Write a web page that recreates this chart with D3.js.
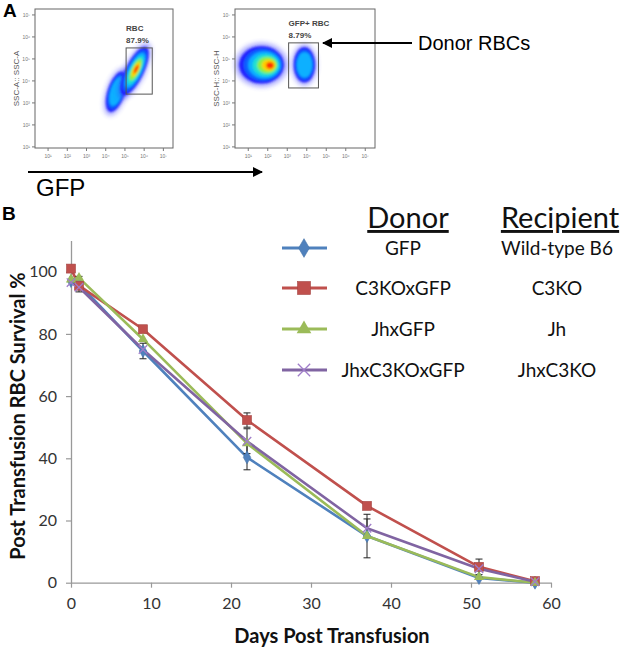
<!DOCTYPE html>
<html>
<head>
<meta charset="utf-8">
<script src="https://cdn.jsdelivr.net/npm/d3@7"></script>
<style>
  body { margin: 0; background: #fff; }
  svg { display: block; }
</style>
</head>
<body>
<svg id="fig" width="637" height="656"></svg>
<script>
// ---- data: panel B (survival curves) ----
var days = [0, 1, 9, 22, 37, 51, 58];
var donors = ["GFP", "C3KOxGFP", "JhxGFP", "JhxC3KOxGFP"];
var recipients = ["Wild-type B6", "C3KO", "Jh", "JhxC3KO"];
var gfpSurvival    = [97, 96, 74.5, 40.3, 15, 1.5, 0];
var c3koSurvival   = [101, 95.5, 81.5, 52.3, 24.7, 5.1, 0.5];
var jhSurvival     = [97.5, 98, 78.3, 44.8, 15, 1.8, 0];
var jhc3koSurvival = [96.5, 95, 75, 45.5, 17.5, 4.5, 0.3];
var gfpErr    = [0, 2.5, 2.5, 4, 0, 0, 0];
var c3koErr   = [0, 0, 0, 2.3, 0, 2.5, 0];
var jhErr     = [0, 0, 0, 0, 7, 0, 0];
var jhc3koErr = [0, 0, 0, 4, 3, 0, 0];
var yTicks = [0, 20, 40, 60, 80, 100];
var xTicks = [0, 10, 20, 30, 40, 50, 60];

// ---- data: panel A (flow plots, log10 units) ----
var flowDecades = [1, 2, 3, 4, 5, 6, 7];
var flow1Clusters = [
  {cx: 4.55, cy: 3.5, px: 4.65, py: 3.6, major: 0.95, minor: 0.45, angle: -72, depth: 3},
  {cx: 5.5, cy: 4.45, px: 5.6, py: 4.55, major: 1.2, minor: 0.47, angle: -64, depth: 7}
];
var flow2Clusters = [
  {cx: 1.68, cy: 4.73, px: 2.2, py: 4.7, major: 1.15, minor: 0.85, angle: 0, depth: 7},
  {cx: 3.88, cy: 4.73, px: 3.9, py: 4.73, major: 0.55, minor: 0.8, angle: 0, depth: 3}
];
var flow1Gate = {x0: 5.06, x1: 6.42, y0: 3.4, y1: 5.5, name: "RBC", pct: "87.9%"};
var flow2Gate = {x0: 3.07, x1: 4.6, y0: 3.68, y1: 5.73, name: "GFP+ RBC", pct: "8.79%"};

var colors = ["#4F81BD", "#C0504D", "#9BBB59", "#8064A2"];
var jet = ["#2020ff", "#1060ff", "#10b0ff", "#20e0d0", "#90f040", "#ffd000", "#ff3000"];

var svg = d3.select("#fig");
var defs = svg.append("defs");
defs.append("filter").attr("id", "soft")
  .attr("x", "-30%").attr("y", "-30%").attr("width", "160%").attr("height", "160%")
  .append("feGaussianBlur").attr("stdDeviation", 1.3);
defs.append("filter").attr("id", "halo")
  .attr("x", "-40%").attr("y", "-40%").attr("width", "180%").attr("height", "180%")
  .append("feGaussianBlur").attr("stdDeviation", 2.5);

// ================= Panel A =================
svg.append("text").attr("x", 3).attr("y", 17)
  .style("font", "bold 19px 'Liberation Sans', Arial, sans-serif").text("A");

function drawFlow(box, yLabel, clusters, gate) {
  var x = d3.scaleLinear().domain([0.32, 7.5]).range([box.x0, box.x1]);
  var y = d3.scaleLinear().domain([0.95, 7.27]).range([box.y1, box.y0]);
  var g = svg.append("g");
  var sx = (box.x1 - box.x0) / (7.5 - 0.32);
  var sy = (box.y1 - box.y0) / (7.27 - 0.95);

  clusters.forEach(function(c) {
    var radii = function(s) {
      return c.angle === 0 ? [c.major * sx * s, c.minor * sy * s] : [c.major * sy * s, c.minor * sx * s];
    };
    // faint scatter halo
    var h = radii(1.18);
    g.append("ellipse")
      .attr("transform", "translate(" + x(c.cx) + "," + y(c.cy) + ") rotate(" + c.angle + ")")
      .attr("rx", h[0]).attr("ry", h[1])
      .attr("fill", "#3a3aff").attr("opacity", 0.45).attr("filter", "url(#halo)");

    var layer = g.append("g").attr("filter", "url(#soft)");
    for (var i = 0; i < c.depth; i++) {
      var s = 1 - i / 7.2;
      var cx = c.cx + (c.px - c.cx) * (1 - s);
      var cy = c.cy + (c.py - c.cy) * (1 - s);
      var r = radii(s);
      layer.append("ellipse")
        .attr("transform", "translate(" + x(cx) + "," + y(cy) + ") rotate(" + c.angle + ")")
        .attr("rx", r[0]).attr("ry", r[1])
        .attr("fill", jet[i]);
    }
  });

  g.append("rect")
    .attr("x", box.x0).attr("y", box.y0)
    .attr("width", box.x1 - box.x0).attr("height", box.y1 - box.y0)
    .attr("fill", "none").attr("stroke", "#666").attr("stroke-width", 1);

  // gate
  g.append("rect")
    .attr("x", x(gate.x0)).attr("y", y(gate.y1))
    .attr("width", x(gate.x1) - x(gate.x0)).attr("height", y(gate.y0) - y(gate.y1))
    .attr("fill", "none").attr("stroke", "#555").attr("stroke-width", 1);
  g.append("text").attr("x", x(gate.x0)).attr("y", y(gate.y1) - 17)
    .style("font", "bold 8px 'Liberation Sans', Arial, sans-serif").attr("fill", "#444")
    .text(gate.name);
  g.append("text").attr("x", x(gate.x0)).attr("y", y(gate.y1) - 5)
    .style("font", "bold 8px 'Liberation Sans', Arial, sans-serif").attr("fill", "#444")
    .text(gate.pct);

  var sup = ["\u00b9", "\u00b2", "\u00b3", "\u2074", "\u2075", "\u2076", "\u2077"];
  flowDecades.forEach(function(d, i) {
    g.append("line").attr("x1", box.x0 - 3).attr("x2", box.x0)
      .attr("y1", y(d)).attr("y2", y(d)).attr("stroke", "#777");
    g.append("text").attr("x", box.x0 - 5).attr("y", y(d) + 2)
      .attr("text-anchor", "end").attr("fill", "#777")
      .style("font", "5px 'Liberation Sans', Arial, sans-serif").text("10" + sup[i]);
    g.append("line").attr("y1", box.y1).attr("y2", box.y1 + 3)
      .attr("x1", x(d)).attr("x2", x(d)).attr("stroke", "#777");
    g.append("text").attr("x", x(d)).attr("y", box.y1 + 10)
      .attr("text-anchor", "middle").attr("fill", "#777")
      .style("font", "5px 'Liberation Sans', Arial, sans-serif").text("10" + sup[i]);
  });

  g.append("text")
    .attr("transform", "translate(" + (box.x0 - 16) + "," + ((box.y0 + box.y1) / 2) + ") rotate(-90)")
    .attr("text-anchor", "middle").attr("fill", "#555")
    .style("font", "8px 'Liberation Sans', Arial, sans-serif").text(yLabel);
}

drawFlow({x0: 35, x1: 173, y0: 9, y1: 148}, "SSC-A:: SSC-A", flow1Clusters, flow1Gate);
drawFlow({x0: 235, x1: 375, y0: 9, y1: 148}, "SSC-H:: SSC-H", flow2Clusters, flow2Gate);

defs.append("marker").attr("id", "arrow")
  .attr("viewBox", "0 0 10 10").attr("refX", 9).attr("refY", 5)
  .attr("markerWidth", 5).attr("markerHeight", 5).attr("orient", "auto")
  .append("path").attr("d", "M0,0 L10,5 L0,10 z").attr("fill", "#000");

svg.append("line").attr("x1", 28).attr("x2", 262).attr("y1", 172).attr("y2", 172)
  .attr("stroke", "#000").attr("stroke-width", 2).attr("marker-end", "url(#arrow)");
svg.append("text").attr("x", 36).attr("y", 196)
  .style("font", "24px 'Liberation Sans', Arial, sans-serif").text("GFP");

svg.append("line").attr("x1", 412).attr("x2", 323).attr("y1", 43).attr("y2", 43)
  .attr("stroke", "#000").attr("stroke-width", 2).attr("marker-end", "url(#arrow)");
svg.append("text").attr("x", 418).attr("y", 50)
  .style("font", "20px 'Liberation Sans', Arial, sans-serif").text("Donor RBCs");

// ================= Panel B =================
svg.append("text").attr("x", 2).attr("y", 220)
  .style("font", "bold 19px 'Liberation Sans', Arial, sans-serif").text("B");

var x = d3.scaleLinear().domain([0, 60]).range([71, 551]);
var y = d3.scaleLinear().domain([0, 110]).range([582.7, 240.6]);
var chartFont = "Lato, 'Open Sans', sans-serif";

var yAxis = svg.append("g").attr("transform", "translate(" + x(0) + ",0)")
  .call(d3.axisLeft(y).tickValues(yTicks).tickSize(5).tickSizeOuter(0).tickPadding(9));
var xAxis = svg.append("g").attr("transform", "translate(0," + y(0) + ")")
  .call(d3.axisBottom(x).tickValues(xTicks).tickSize(5).tickSizeOuter(0).tickPadding(10));
[xAxis, yAxis].forEach(function(a) {
  a.select(".domain").attr("stroke", "#999").attr("stroke-width", 1.3);
  a.selectAll(".tick line").attr("stroke", "#999").attr("stroke-width", 1.2);
  a.selectAll(".tick text").attr("fill", "#333").style("font", "16px " + chartFont);
});

svg.append("text").attr("x", 332).attr("y", 643).attr("text-anchor", "middle")
  .style("font", "bold 20px " + chartFont).attr("fill", "#111").text("Days Post Transfusion");
svg.append("text").attr("transform", "translate(25,416) rotate(-90)")
  .attr("text-anchor", "middle").style("font", "bold 20px " + chartFont).attr("fill", "#111")
  .text("Post Transfusion RBC Survival %");

var allSeries = [
  {name: donors[0], vals: gfpSurvival, err: gfpErr, color: colors[0], shape: "diamond"},
  {name: donors[1], vals: c3koSurvival, err: c3koErr, color: colors[1], shape: "square"},
  {name: donors[2], vals: jhSurvival, err: jhErr, color: colors[2], shape: "triangle"},
  {name: donors[3], vals: jhc3koSurvival, err: jhc3koErr, color: colors[3], shape: "cross"}
];

var line = d3.line().x(function(d) { return x(d.day); }).y(function(d) { return y(d.v); });

function points(s) {
  return days.map(function(d, i) { return {day: d, v: s.vals[i], e: s.err[i]}; });
}

function drawMarker(g, shape, color, size) {
  if (shape === "diamond") {
    g.append("path").attr("d", d3.symbol(d3.symbolDiamond, size * size * 0.6)())
      .attr("fill", color).attr("stroke", d3.color(color).darker(0.3)).attr("stroke-width", 0.6);
  } else if (shape === "square") {
    g.append("rect").attr("x", -size / 2).attr("y", -size / 2)
      .attr("width", size).attr("height", size)
      .attr("fill", color).attr("stroke", d3.color(color).darker(0.4)).attr("stroke-width", 0.6);
  } else if (shape === "triangle") {
    g.append("path").attr("d", d3.symbol(d3.symbolTriangle, size * size * 0.55)())
      .attr("fill", color);
  } else {
    g.append("path").attr("d", d3.symbol(d3.symbolTimes, size * size * 0.6)())
      .attr("fill", "none").attr("stroke", d3.color(color).brighter(0.6)).attr("stroke-width", 1.3);
  }
}

allSeries.forEach(function(s) {
  svg.append("path").datum(points(s)).attr("d", line)
    .attr("fill", "none").attr("stroke", s.color).attr("stroke-width", 2.6)
    .attr("stroke-linejoin", "round");
});

allSeries.forEach(function(s) {
  points(s).forEach(function(p) {
    if (!p.e) return;
    var eg = svg.append("g").attr("stroke", "#222").attr("stroke-width", 1);
    eg.append("line").attr("x1", x(p.day)).attr("x2", x(p.day))
      .attr("y1", y(p.v - p.e)).attr("y2", y(p.v + p.e));
    [p.v - p.e, p.v + p.e].forEach(function(v) {
      eg.append("line").attr("x1", x(p.day) - 3.5).attr("x2", x(p.day) + 3.5)
        .attr("y1", y(v)).attr("y2", y(v));
    });
  });
});

allSeries.forEach(function(s) {
  points(s).forEach(function(p) {
    var mg = svg.append("g").attr("transform", "translate(" + x(p.day) + "," + y(p.v) + ")");
    drawMarker(mg, s.shape, s.color, 9);
  });
});

// legend
var legY = [248, 288, 329, 370];
svg.append("text").attr("x", 408).attr("y", 228).attr("text-anchor", "middle")
  .style("font", "29px " + chartFont).attr("fill", "#111").text("Donor")
  .attr("text-decoration", "underline");
svg.append("text").attr("x", 560).attr("y", 228).attr("text-anchor", "middle")
  .style("font", "29px " + chartFont).attr("fill", "#111").text("Recipient")
  .attr("text-decoration", "underline");

allSeries.forEach(function(s, i) {
  var lg = svg.append("g").attr("transform", "translate(0," + legY[i] + ")");
  lg.append("line").attr("x1", 282).attr("x2", 327).attr("y1", 0).attr("y2", 0)
    .attr("stroke", s.color).attr("stroke-width", 3);
  drawMarker(lg.append("g").attr("transform", "translate(304,0)"), s.shape, s.color, 13);
  lg.append("text").attr("x", 403).attr("y", 7).attr("text-anchor", "middle")
    .style("font", "19px " + chartFont).attr("fill", "#111").text(s.name);
  lg.append("text").attr("x", 557).attr("y", 7).attr("text-anchor", "middle")
    .style("font", "19px " + chartFont).attr("fill", "#111").text(recipients[i]);
});
</script>
</body>
</html>
